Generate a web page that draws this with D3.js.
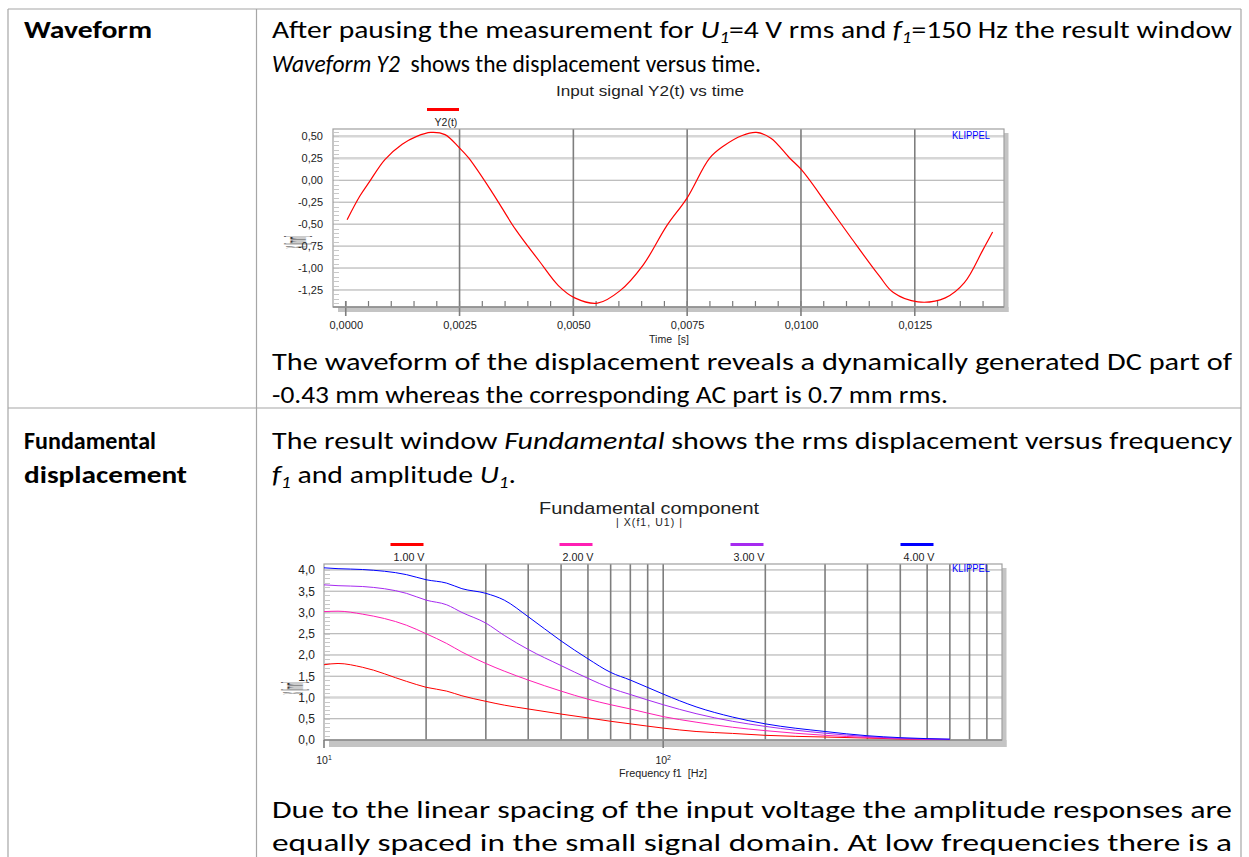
<!DOCTYPE html>
<html>
<head>
<meta charset="utf-8">
<script src="https://cdn.jsdelivr.net/npm/d3@7"></script>
<style>
body { margin: 0; background: #fff; }
svg { display: block; }
</style>
</head>
<body>
<div id="canvas"></div>
<script>
"use strict"

let svgWidth = 1249;
let svgHeight = 857;

/* waveform Y2(t): time in s, displacement in mm */
let waveTime = [0.00003, 0.00031, 0.00053, 0.00086, 0.00124, 0.00156, 0.00187, 0.00218, 0.0025, 0.0027,
    0.00322, 0.00373, 0.00425, 0.00467, 0.00503, 0.00553, 0.00602, 0.00654, 0.00705, 0.0075,
    0.00799, 0.0083, 0.00871, 0.00902, 0.00934, 0.00975, 0.01001, 0.01058, 0.0111, 0.01172,
    0.01203, 0.01257, 0.01317, 0.01359, 0.014, 0.01421];
let waveDisp = [-0.45, -0.18, -0.01, 0.235, 0.41, 0.50, 0.545, 0.52, 0.367, 0.254,
    -0.14, -0.56, -0.92, -1.20, -1.34, -1.40, -1.26, -0.96, -0.52, -0.20,
    0.25, 0.39, 0.51, 0.545, 0.48, 0.254, 0.12, -0.28, -0.655, -1.09,
    -1.28, -1.386, -1.34, -1.167, -0.79, -0.59];
let waveYTicks = [0.5, 0.25, 0, -0.25, -0.5, -0.75, -1, -1.25];
let waveXTicks = [0, 0.0025, 0.005, 0.0075, 0.01, 0.0125];

/* fundamental component |X(f1,U1)| in mm for four voltages */
let fundFreq = [10, 11, 13, 17.5, 20, 23, 25.5, 30, 34, 40, 50, 60, 70, 80, 100, 125, 160, 200, 300, 400, 500, 700];
let fund1V = [1.77, 1.80, 1.71, 1.38, 1.24, 1.15, 1.04, 0.91, 0.82, 0.73, 0.61, 0.52, 0.44, 0.38, 0.28, 0.20, 0.155, 0.11, 0.07, 0.045, 0.025, 0.01];
let fund2V = [3.02, 3.03, 2.96, 2.70, 2.50, 2.27, 2.07, 1.80, 1.62, 1.41, 1.15, 0.96, 0.83, 0.73, 0.55, 0.42, 0.30, 0.22, 0.11, 0.06, 0.03, 0.012];
let fund3V = [3.65, 3.63, 3.61, 3.45, 3.29, 3.18, 3.00, 2.75, 2.46, 2.13, 1.75, 1.45, 1.22, 1.07, 0.83, 0.62, 0.44, 0.32, 0.16, 0.08, 0.04, 0.015];
let fund4V = [4.05, 4.03, 4.01, 3.89, 3.77, 3.69, 3.56, 3.45, 3.29, 2.90, 2.33, 1.91, 1.59, 1.41, 1.08, 0.78, 0.54, 0.38, 0.20, 0.10, 0.055, 0.02];
let fundLabels = ["1.00 V", "2.00 V", "3.00 V", "4.00 V"];
let fundColors = ["#ff0000", "#ff1fb4", "#a62af0", "#0000ff"];
let fundYTicks = [0, 0.5, 1, 1.5, 2, 2.5, 3, 3.5, 4];
let fundGridFreq = [20, 30, 40, 50, 60, 70, 80, 90, 100, 200, 300, 400, 500, 600, 700, 800, 900];

let chartFont = "'Liberation Sans', Arial, sans-serif";
let docFont = "Carlito, Calibri, Lato, 'Open Sans', sans-serif";

let svg = d3.select("#canvas")
    .append("svg")
    .attr("width", svgWidth)
    .attr("height", svgHeight);

svg.append("rect").attr("width", svgWidth).attr("height", svgHeight).attr("fill", "#fff");

/* table lines */
let tableColor = "#a6a6a6";
[[8, 9, 1241, 9], [8, 408, 1241, 408], [8, 9, 8, svgHeight], [256.5, 9, 256.5, svgHeight], [1241, 9, 1241, svgHeight]]
    .forEach(function (l) {
        svg.append("line")
            .attr("x1", l[0]).attr("y1", l[1]).attr("x2", l[2]).attr("y2", l[3])
            .attr("stroke", tableColor).attr("stroke-width", 1.2);
    });

/* document text, one entry per printed line; parts: [text, italic, subscript] */
let docLines = [
    { x: 24, y: 38, w: 128, bold: true, parts: [["Waveform"]] },
    { x: 24, y: 449, w: 132, bold: true, parts: [["Fundamental"]] },
    { x: 24, y: 483, w: 163, bold: true, parts: [["displacement"]] },
    { x: 272, y: 38, w: 960, parts: [["After pausing the measurement for "], ["U", 1], ["1", 1, 1], ["=4 V rms and "], ["f", 1], ["1", 1, 1], ["=150 Hz the result window"]] },
    { x: 272, y: 72, w: 489, parts: [["Waveform Y2", 1], ["  shows the displacement versus time."]] },
    { x: 272, y: 370, w: 960, parts: [["The waveform of the displacement reveals a dynamically generated DC part of"]] },
    { x: 272, y: 403, w: 676, parts: [["-0.43 mm whereas the corresponding AC part is 0.7 mm rms."]] },
    { x: 272, y: 449, w: 960, parts: [["The result window "], ["Fundamental", 1], [" shows the rms displacement versus frequency"]] },
    { x: 272, y: 483, w: 244, parts: [["f", 1], ["1", 1, 1], [" and amplitude "], ["U", 1], ["1", 1, 1], ["."]] },
    { x: 272, y: 818, w: 960, parts: [["Due to the linear spacing of the input voltage the amplitude responses are"]] },
    { x: 272, y: 851, w: 960, parts: [["equally spaced in the small signal domain. At low frequencies there is a"]] }
];

docLines.forEach(function (line) {
    let t = svg.append("text")
        .attr("x", line.x)
        .attr("y", line.y)
        .attr("font-family", docFont)
        .attr("font-size", 25)
        .attr("font-weight", line.bold ? "bold" : "normal")
        .attr("fill", "#000")
        .attr("textLength", line.w)
        .attr("lengthAdjust", "spacingAndGlyphs")
        .style("white-space", "pre");
    let shifted = false;
    line.parts.forEach(function (p) {
        let ts = t.append("tspan").text(p[0]);
        if (p[1]) ts.attr("font-style", "italic");
        if (p[2]) {
            ts.attr("font-size", 16).attr("dy", 5);
            shifted = true;
        } else if (shifted) {
            ts.attr("dy", -5);
            shifted = false;
        }
    });
});

/* ---------- chart 1: waveform ---------- */
let w = { left: 333, right: 1004, top: 129, bottom: 307 };

let xW = d3.scaleLinear()
    .domain([-0.00028, 0.01446])
    .range([w.left, w.right]);

let yW = d3.scaleLinear()
    .domain([-1.444, 0.584])
    .range([w.bottom, w.top]);

// drop shadow
svg.append("rect").attr("x", w.right).attr("y", w.top + 4).attr("width", 4.5).attr("height", w.bottom - w.top + 1)
    .attr("fill", "#c4c4c4");
svg.append("rect").attr("x", w.left + 5).attr("y", w.bottom).attr("width", w.right - w.left - 0.5).attr("height", 5)
    .attr("fill", "#c4c4c4");

// horizontal grid (two of them drawn in the pale, broad style of the original)
svg.selectAll(null)
    .data(waveYTicks)
    .join("line")
    .attr("x1", w.left).attr("x2", w.right)
    .attr("y1", d => yW(d)).attr("y2", d => yW(d))
    .attr("stroke", d => d >= 0.25 ? "#d6d6d6" : "#a9a9a9")
    .attr("stroke-width", d => d >= 0.25 ? 2.5 : 1);

// left minor ticks
svg.selectAll(null)
    .data(d3.range(-1.4, 0.56, 0.05))
    .join("line")
    .attr("x1", w.left + 1).attr("x2", w.left + 6)
    .attr("y1", d => Math.round(yW(d)) + 0.5).attr("y2", d => Math.round(yW(d)) + 0.5)
    .attr("stroke", "#c8c8c8");

// bottom minor ticks
svg.selectAll(null)
    .data(d3.range(0, 0.0142, 0.0005))
    .join("line")
    .attr("x1", d => xW(d)).attr("x2", d => xW(d))
    .attr("y1", w.bottom - 6).attr("y2", w.bottom)
    .attr("stroke", "#7a7a7a").attr("stroke-width", 1.2);

// vertical major lines
svg.selectAll(null)
    .data(waveXTicks)
    .join("line")
    .attr("x1", d => xW(d)).attr("x2", d => xW(d))
    .attr("y1", d => d === 0 ? w.bottom - 6 : w.top).attr("y2", w.bottom + 9)
    .attr("stroke", "#7e7e7e").attr("stroke-width", 1.6);

// frame
svg.append("rect").attr("x", w.left).attr("y", w.top).attr("width", w.right - w.left).attr("height", w.bottom - w.top)
    .attr("fill", "none").attr("stroke", "#a0a0a0").attr("stroke-width", 1.2);
svg.append("line").attr("x1", w.left).attr("x2", w.right).attr("y1", w.bottom).attr("y2", w.bottom)
    .attr("stroke", "#8c8c8c").attr("stroke-width", 1.6);

// curve
svg.append("path")
    .datum(d3.zip(waveTime, waveDisp))
    .attr("fill", "none")
    .attr("stroke", "#ff0000")
    .attr("stroke-width", 1.2)
    .attr("d", d3.line()
        .x(d => xW(d[0]))
        .y(d => yW(d[1]))
        .curve(d3.curveCatmullRom.alpha(0.5)));

// axis labels
let commaFmt = function (spec) {
    return d => d3.format(spec)(d).replace("−", "-").replace(".", ",");
};

let yAxisW = svg.append("g")
    .attr("transform", "translate(" + w.left + ",0)")
    .call(d3.axisLeft(yW).tickValues(waveYTicks).tickSize(0).tickPadding(10).tickFormat(commaFmt(".2f")));
let xAxisW = svg.append("g")
    .attr("transform", "translate(0," + (w.bottom + 14) + ")")
    .call(d3.axisBottom(xW).tickValues(waveXTicks).tickSize(0).tickPadding(0).tickFormat(commaFmt(".4f")));
[yAxisW, xAxisW].forEach(function (g) {
    g.select(".domain").remove();
    g.selectAll("text").attr("font-family", chartFont).attr("font-size", 11).attr("fill", "#222");
});

svg.append("text")
    .attr("x", 650).attr("y", 96)
    .attr("text-anchor", "middle")
    .attr("font-family", chartFont).attr("font-size", 15).attr("fill", "#222")
    .attr("textLength", 188).attr("lengthAdjust", "spacingAndGlyphs")
    .text("Input signal Y2(t) vs time");

svg.append("line").attr("x1", 427).attr("x2", 459).attr("y1", 109.5).attr("y2", 109.5)
    .attr("stroke", "#ff0000").attr("stroke-width", 3);
svg.append("text")
    .attr("x", 446).attr("y", 126)
    .attr("text-anchor", "middle")
    .attr("font-family", chartFont).attr("font-size", 10.5).attr("fill", "#222")
    .text("Y2(t)");

svg.append("text")
    .attr("x", 952).attr("y", 139)
    .attr("font-family", chartFont).attr("font-size", 10).attr("fill", "#0000ff")
    .attr("textLength", 38).attr("lengthAdjust", "spacingAndGlyphs")
    .text("KLIPPEL");

svg.append("text")
    .attr("x", 669).attr("y", 343)
    .attr("text-anchor", "middle")
    .attr("font-family", chartFont).attr("font-size", 10.5).attr("fill", "#222")
    .style("white-space", "pre")
    .text("Time  [s]");

// squashed y axis title as in the original
svg.append("text")
    .attr("transform", "translate(296,242) scale(3.2,0.45) rotate(-90)")
    .attr("text-anchor", "middle").attr("dy", "0.35em")
    .attr("font-family", chartFont).attr("font-size", 9).attr("fill", "#333")
    .text("X  [mm]");

/* ---------- chart 2: fundamental component ---------- */
let f = { left: 324, right: 1002, top: 564, bottom: 740 };

let xF = d3.scaleLog()
    .domain([10, 1000])
    .range([f.left, f.right + 0.4]);

let yF = d3.scaleLinear()
    .domain([0, 4.14])
    .range([f.bottom, f.top]);

svg.append("rect").attr("x", f.right).attr("y", f.top + 4).attr("width", 4.5).attr("height", f.bottom - f.top + 3)
    .attr("fill", "#c4c4c4");
svg.append("rect").attr("x", f.left + 5).attr("y", f.bottom).attr("width", f.right - f.left - 0.5).attr("height", 7)
    .attr("fill", "#c4c4c4");

svg.selectAll(null)
    .data(fundYTicks.filter(d => d > 0))
    .join("line")
    .attr("x1", f.left).attr("x2", f.right)
    .attr("y1", d => yF(d)).attr("y2", d => yF(d))
    .attr("stroke", d => (d === 3 || d === 1) ? "#d6d6d6" : "#a9a9a9")
    .attr("stroke-width", d => (d === 3 || d === 1) ? 2.5 : 1);

svg.selectAll(null)
    .data(d3.range(0.1, 4.1, 0.1))
    .join("line")
    .attr("x1", f.left + 1).attr("x2", f.left + 6)
    .attr("y1", d => Math.round(yF(d)) + 0.5).attr("y2", d => Math.round(yF(d)) + 0.5)
    .attr("stroke", "#c8c8c8");

svg.selectAll(null)
    .data(fundGridFreq)
    .join("line")
    .attr("x1", d => xF(d)).attr("x2", d => xF(d))
    .attr("y1", f.top).attr("y2", d => d === 100 ? f.bottom + 8 : f.bottom)
    .attr("stroke", "#7e7e7e").attr("stroke-width", 1.6);

svg.append("rect").attr("x", f.left).attr("y", f.top).attr("width", f.right - f.left).attr("height", f.bottom - f.top)
    .attr("fill", "none").attr("stroke", "#a0a0a0").attr("stroke-width", 1.2);
svg.append("line").attr("x1", f.left).attr("x2", f.right).attr("y1", f.bottom).attr("y2", f.bottom)
    .attr("stroke", "#8c8c8c").attr("stroke-width", 1.6);
svg.append("line").attr("x1", f.left).attr("x2", f.left).attr("y1", f.bottom).attr("y2", f.bottom + 8)
    .attr("stroke", "#7e7e7e").attr("stroke-width", 1.6);

let fundSeries = [fund1V, fund2V, fund3V, fund4V];
let fundLine = d3.line()
    .x(d => xF(d[0]))
    .y(d => yF(d[1]))
    .curve(d3.curveMonotoneX);

svg.selectAll(null)
    .data(fundSeries)
    .join("path")
    .attr("fill", "none")
    .attr("stroke", (d, i) => fundColors[i])
    .attr("stroke-width", 1)
    .attr("d", d => fundLine(d3.zip(fundFreq, d)));

let yAxisF = svg.append("g")
    .attr("transform", "translate(" + f.left + ",0)")
    .call(d3.axisLeft(yF).tickValues(fundYTicks).tickSize(0).tickPadding(9).tickFormat(commaFmt(".1f")));
yAxisF.select(".domain").remove();
yAxisF.selectAll("text").attr("font-family", chartFont).attr("font-size", 12).attr("fill", "#222");

[10, 100].forEach(function (d, i) {
    let t = svg.append("text")
        .attr("x", xF(d)).attr("y", 764)
        .attr("text-anchor", "middle")
        .attr("font-family", chartFont).attr("font-size", 10.5).attr("fill", "#222");
    t.append("tspan").text("10");
    t.append("tspan").attr("font-size", 7).attr("dy", -4).text(i === 0 ? "1" : "2");
});

svg.append("text")
    .attr("x", 663).attr("y", 777)
    .attr("text-anchor", "middle")
    .attr("font-family", chartFont).attr("font-size", 10).attr("fill", "#222")
    .attr("textLength", 88).attr("lengthAdjust", "spacingAndGlyphs")
    .style("white-space", "pre")
    .text("Frequency f1  [Hz]");

svg.append("text")
    .attr("x", 649).attr("y", 514)
    .attr("text-anchor", "middle")
    .attr("font-family", chartFont).attr("font-size", 16).attr("fill", "#222")
    .attr("textLength", 220).attr("lengthAdjust", "spacingAndGlyphs")
    .text("Fundamental component");
svg.append("text")
    .attr("x", 649).attr("y", 526)
    .attr("text-anchor", "middle")
    .attr("font-family", chartFont).attr("font-size", 10.5).attr("fill", "#222")
    .attr("textLength", 66).attr("lengthAdjust", "spacing")
    .style("white-space", "pre")
    .text("| X(f1, U1) |");

let legendX = [407, 576, 747, 917];
fundLabels.forEach(function (lab, i) {
    svg.append("line")
        .attr("x1", legendX[i] - 16.5).attr("x2", legendX[i] + 16.5)
        .attr("y1", 544.5).attr("y2", 544.5)
        .attr("stroke", fundColors[i]).attr("stroke-width", 3);
    svg.append("text")
        .attr("x", legendX[i] + 2).attr("y", 561)
        .attr("text-anchor", "middle")
        .attr("font-family", chartFont).attr("font-size", 10.5).attr("fill", "#222")
        .attr("textLength", 31).attr("lengthAdjust", "spacingAndGlyphs")
        .text(lab);
});

svg.append("text")
    .attr("x", 952).attr("y", 572)
    .attr("font-family", chartFont).attr("font-size", 10).attr("fill", "#0000ff")
    .attr("textLength", 38).attr("lengthAdjust", "spacingAndGlyphs")
    .text("KLIPPEL");

svg.append("text")
    .attr("transform", "translate(293,688) scale(3.2,0.45) rotate(-90)")
    .attr("text-anchor", "middle").attr("dy", "0.35em")
    .attr("font-family", chartFont).attr("font-size", 9).attr("fill", "#333")
    .text("X  [mm]");
</script>
</body>
</html>
